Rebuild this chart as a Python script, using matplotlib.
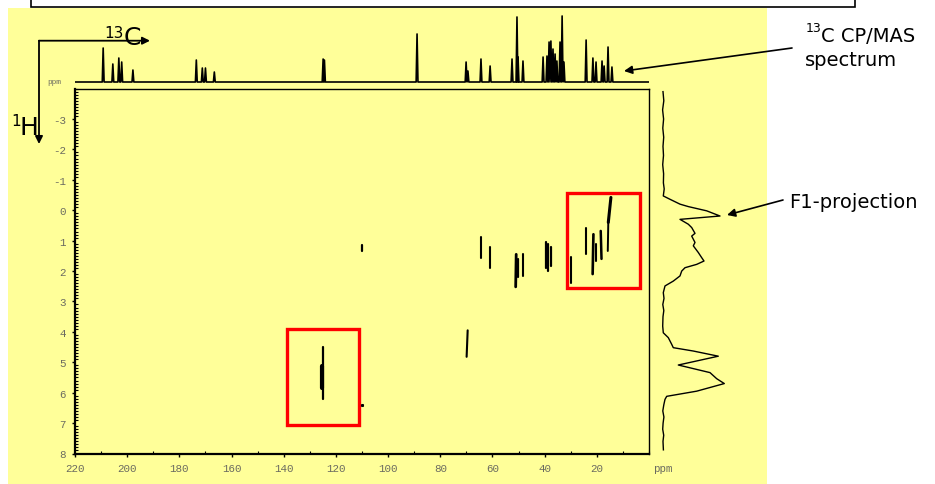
import matplotlib
matplotlib.use("Agg")
import matplotlib.pyplot as plt
from matplotlib.patches import Rectangle, FancyArrowPatch
from matplotlib.ticker import MultipleLocator

plt.rcParams["axes.unicode_minus"] = False

# 13C CP/MAS peak list: chemical shift (ppm) and peak height (a.u.)
c13_shift = [209.2, 205.5, 203.2, 202.1, 197.8, 173.5, 171.2, 170.0, 166.6,
             124.9, 124.4, 88.9, 70.1, 69.4, 64.4, 60.9, 52.5, 50.6, 50.2,
             48.3, 40.6, 39.1, 38.3, 37.6, 36.8, 36.0, 35.3, 34.1, 33.3,
             32.6, 24.1, 21.5, 20.3, 18.0, 17.2, 15.7, 14.2]
c13_height = [34, 18, 24, 20, 12, 22, 14, 14, 10,
              23, 22, 48, 20, 11, 23, 16, 23, 65, 25,
              21, 25, 26, 40, 41, 33, 28, 21, 40, 66,
              20, 42, 24, 20, 21, 16, 35, 15]

# F1 (1H) projection trace: shift (ppm) and intensity (a.u.)
f1_shift = [-3.9, -3.6, -3.3, -3.0, -2.7, -2.4, -2.1, -1.8, -1.5, -1.2, -0.9,
            -0.7, -0.47, -0.36, -0.2, -0.12, 0.02, 0.19, 0.30, 0.46, 0.57,
            0.76, 0.85, 1.06, 1.17, 1.39, 1.56, 1.67, 1.78, 1.89, 2.0, 2.16,
            2.33, 2.49, 2.71, 2.9, 3.1, 3.3, 3.5, 3.81, 4.03, 4.19, 4.41,
            4.52, 4.63, 4.80, 5.09, 5.34, 5.54, 5.70, 5.95, 6.12, 6.22, 6.4,
            6.6, 6.8, 7.0, 7.2, 7.4, 7.6, 7.88]
f1_intensity = [0.0, 0.8, -0.4, 0.6, -0.2, 0.7, 0.0, 0.5, -0.3, 0.6, 0.4,
                1.2, 0.3, 7, 17, 25.3, 43.7, 57, 17, 25.3, 28.7,
                32, 28.7, 32, 30.3, 35.3, 38.7, 41, 33.7, 22, 18.7, 17,
                10.3, 2, 0.3, 1.0, -0.2, 0.8, 0.0, -0.3, 0.3, 5.3, 8.7,
                10.3, 30.3, 55.3, 15.3, 47, 53.7, 61.3, 33.7, 3.7, 2, 0.8,
                -0.2, 0.9, 0.1, -0.3, 0.7, 0.0, 0.4]

# HETCOR cross-peaks: (13C, 1H) shift at each end of the streak
xpk_c_top = [14.6, 15.6, 24.1, 21.3, 20.3, 18.5, 110.1, 64.4, 60.8,
             50.9, 50.2, 48.4, 39.4, 38.7, 37.7, 30.0, 69.5, 124.8, 125.3]
xpk_h_top = [-0.42, 0.40, 0.57, 0.79, 1.12, 0.68, 1.15, 0.87, 1.20,
             1.45, 1.60, 1.45, 1.05, 1.10, 1.20, 1.55, 3.95, 4.49, 5.13]
xpk_c_bot = [15.6, 15.8, 24.1, 21.6, 20.3, 18.2, 110.1, 64.4, 60.8,
             51.1, 50.2, 48.4, 39.4, 38.7, 37.7, 30.0, 69.9, 124.8, 125.3]
xpk_h_bot = [0.40, 1.34, 1.45, 2.10, 1.67, 1.60, 1.34, 1.58, 1.89,
             2.52, 2.20, 2.16, 1.90, 2.00, 1.85, 2.40, 4.82, 6.22, 5.84]

# highlighted regions (13C range, 1H range)
box_c_lo = [111.0, 3.5]
box_c_hi = [138.9, 31.3]
box_h_lo = [3.9, -0.58]
box_h_hi = [7.05, 2.57]

x_ticks = [220, 200, 180, 160, 140, 120, 100, 80, 60, 40, 20]
y_ticks = [-3, -2, -1, 0, 1, 2, 3, 4, 5, 6, 7, 8]

W, H = 935, 485
YELLOW = "#FFFF99"
GREY = "#6b6b60"
TICKFONT = "Liberation Mono"


def fx(px):
    return px / W


def fy(py):
    return 1 - py / H


def fpt(px, py):
    return (px, H - py)


fig = plt.figure(figsize=(W / 100, H / 100), dpi=100, facecolor="white")

# slide background
fig.patches.append(Rectangle(fpt(8, 485), 759, 476, transform=None,
                             facecolor=YELLOW, edgecolor="none", zorder=-5))
fig.patches.append(Rectangle(fpt(31, 8), 824, 20, transform=None,
                             facecolor="white", edgecolor="black",
                             linewidth=1.2, zorder=-4))

# ---- 2D contour map ----
ax = fig.add_axes([fx(75), fy(454.5), (649 - 75) / W, (454.5 - 89.6) / H])
ax.set_facecolor("none")
ax.set_xlim(220, 0)
ax.set_ylim(8, -4)
ax.set_xticks(x_ticks)
ax.set_yticks(y_ticks)
ax.xaxis.set_minor_locator(MultipleLocator(10))
ax.yaxis.set_minor_locator(MultipleLocator(0.1))
ax.tick_params(which="major", direction="out", length=2.5, width=1,
               labelsize=7.8, labelcolor=GREY, pad=4)
ax.tick_params(which="minor", direction="in", length=2, width=0.8)
for lab in ax.get_xticklabels() + ax.get_yticklabels():
    lab.set_fontfamily(TICKFONT)
for s in ("bottom", "left"):
    ax.spines[s].set_linewidth(1.6)
for s in ("top", "right"):
    ax.spines[s].set_linewidth(1.0)

widths = [2.2, 1.4, 1.5, 1.9, 1.5, 1.8, 1.6, 1.5, 1.5,
          2.0, 1.6, 1.5, 1.6, 1.6, 1.6, 1.5, 1.5, 1.6, 3.0]
for c0, h0, c1, h1, lw in zip(xpk_c_top, xpk_h_top, xpk_c_bot, xpk_h_bot, widths):
    ax.plot([c0, c1], [h0, h1], color="black", linewidth=lw,
            solid_capstyle="round")
ax.plot([110.0], [6.41], marker="s", markersize=1.2, color="black")

for c_lo, c_hi, h_lo, h_hi in zip(box_c_lo, box_c_hi, box_h_lo, box_h_hi):
    ax.add_patch(Rectangle((c_lo, h_lo), c_hi - c_lo, h_hi - h_lo,
                           fill=False, edgecolor="#FF0000", linewidth=2.4))

fig.text(fx(653), fy(469), "ppm", fontsize=7.8, family=TICKFONT,
         color=GREY, va="center", ha="left")
fig.text(fx(47), fy(82), "ppm", fontsize=5.5, family=TICKFONT,
         color=GREY, va="center", ha="left")

# ---- 13C CP/MAS spectrum along the top ----
axt = fig.add_axes([fx(75), fy(85), (649 - 75) / W, 70 / H])
axt.set_xlim(220, 0)
axt.set_ylim(-2, 68)
axt.axis("off")
half = 0.35
order = sorted(range(len(c13_shift)), key=lambda i: -c13_shift[i])
sx, sy = [220.0], [0.0]
for i in order:
    p, h = c13_shift[i], c13_height[i]
    sx += [p + half, p, p - half]
    sy += [0.0, h, 0.0]
sx.append(0.0)
sy.append(0.0)
axt.plot(sx, sy, color="black", linewidth=1.2)

# ---- F1 projection on the right ----
axr = fig.add_axes([fx(661), fy(454.5), 70 / W, (454.5 - 89.6) / H])
axr.set_xlim(-2, 68)
axr.set_ylim(8, -4)
axr.axis("off")
axr.plot(f1_intensity, f1_shift, color="black", linewidth=1.0)

# ---- axis direction arrows ----
arrow_kw = dict(arrowstyle="-|>", color="black", lw=1.3, mutation_scale=11,
                shrinkA=0, shrinkB=0)
fig.add_artist(FancyArrowPatch(fpt(39, 41.7), fpt(150, 41.7),
                               transform=None, **arrow_kw))
fig.add_artist(FancyArrowPatch(fpt(39, 41.7), fpt(39, 145),
                               transform=None, **arrow_kw))
fig.text(fx(104), fy(33), "13", fontsize=11, va="center", ha="left")
fig.text(fx(124), fy(38), "C", fontsize=18, va="center", ha="left")
fig.text(fx(11), fy(121), "1", fontsize=11, va="center", ha="left")
fig.text(fx(20), fy(128), "H", fontsize=18, va="center", ha="left")

# ---- annotations ----
fig.text(fx(806), fy(29), "13", fontsize=9, va="center", ha="left")
fig.text(fx(821), fy(37), "C CP/MAS", fontsize=14, va="center", ha="left")
fig.text(fx(805), fy(60), "spectrum", fontsize=14, va="center", ha="left")
fig.text(fx(789), fy(203), "F1-projection", fontsize=14, va="center", ha="left")
note_kw = dict(arrowstyle="-|>", color="black", lw=1.2, mutation_scale=12,
               shrinkA=0, shrinkB=0)
fig.add_artist(FancyArrowPatch(fpt(792, 49), fpt(624, 72),
                               transform=None, **note_kw))
fig.add_artist(FancyArrowPatch(fpt(783, 201), fpt(727, 216),
                               transform=None, **note_kw))

fig.savefig("out.png", dpi=100, facecolor="white")
